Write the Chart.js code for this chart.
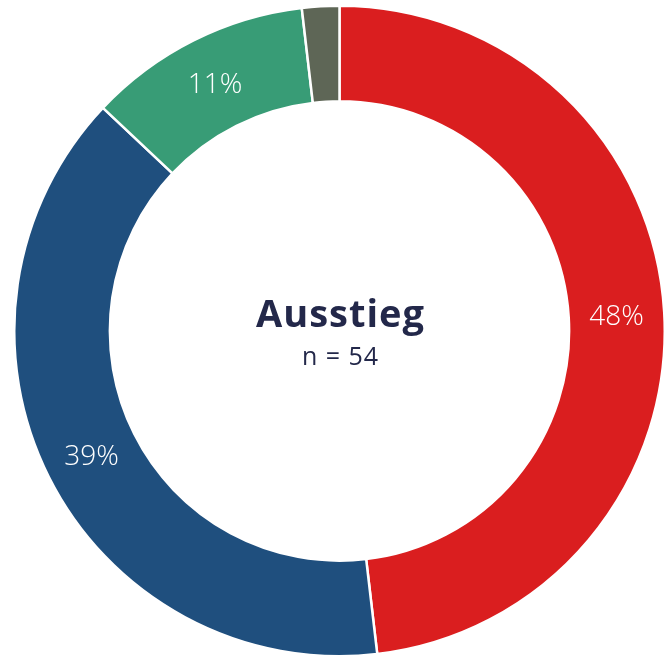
<!DOCTYPE html>
<html>
<head>
<meta charset="utf-8">
<script src="https://cdn.jsdelivr.net/npm/chart.js@4/dist/chart.umd.min.js"></script>
<style>
  html, body { margin:0; padding:0; background:#fff; }
  #wrap { width:666px; height:660px; position:relative; }
</style>
</head>
<body>
<div id="wrap"><canvas id="donut"></canvas></div>
<script>
// Daten
const categories = ['A', 'B', 'C', 'D']
const counts = [26, 21, 6, 1]
const pctLabels = ['48%', '39%', '11%', '']
const colors = ['#da1e1f', '#1f4f7e', '#389c76', '#5e6656']

const title = 'Ausstieg'
const subtitle = 'n = 54'

// Prozent-Labels in den Segmenten
const sliceLabels = {
  id:'sliceLabels',
  afterDatasetsDraw(chart){
    const ctx = chart.ctx
    const meta = chart.getDatasetMeta(0)
    ctx.save()
    ctx.fillStyle = '#ffffff'
    ctx.font = '300 28px "Open Sans"'
    ctx.textAlign = 'center'
    ctx.textBaseline = 'middle'
    meta.data.forEach((arc, i) => {
      if (!pctLabels[i]) return
      const p = arc.getCenterPoint()
      ctx.fillText(pctLabels[i], p.x, p.y + 2)
    })
    ctx.restore()
  }
}

// Text in der Mitte
const centerText = {
  id:'centerText',
  afterDraw(chart){
    const ctx = chart.ctx
    const arc = chart.getDatasetMeta(0).data[0]
    ctx.save()
    ctx.fillStyle = '#23284a'
    ctx.textAlign = 'center'
    ctx.textBaseline = 'middle'
    ctx.letterSpacing = '1px'
    ctx.font = 'bold 38px "Open Sans"'
    ctx.fillText(title, arc.x + 1, arc.y - 15)
    ctx.font = '25px "Open Sans"'
    ctx.fillText(subtitle, arc.x + 1, arc.y + 27)
    ctx.restore()
  }
}

new Chart(document.getElementById('donut'), {

  type:'doughnut',

  data:{
    labels:categories,
    datasets:[{
      data:counts,
      backgroundColor:colors,
      borderColor:'#ffffff',
      borderWidth:2.5
    }]
  },

  options:{
    responsive:true,
    maintainAspectRatio:false,
    animation:false,
    cutout:'70.6%',
    layout:{ padding:{ left:13, right:0, top:2, bottom:0 } },
    plugins:{
      legend:{ display:false },
      tooltip:{ enabled:false }
    }
  },

  plugins:[sliceLabels, centerText]

})
</script>
</body>
</html>
